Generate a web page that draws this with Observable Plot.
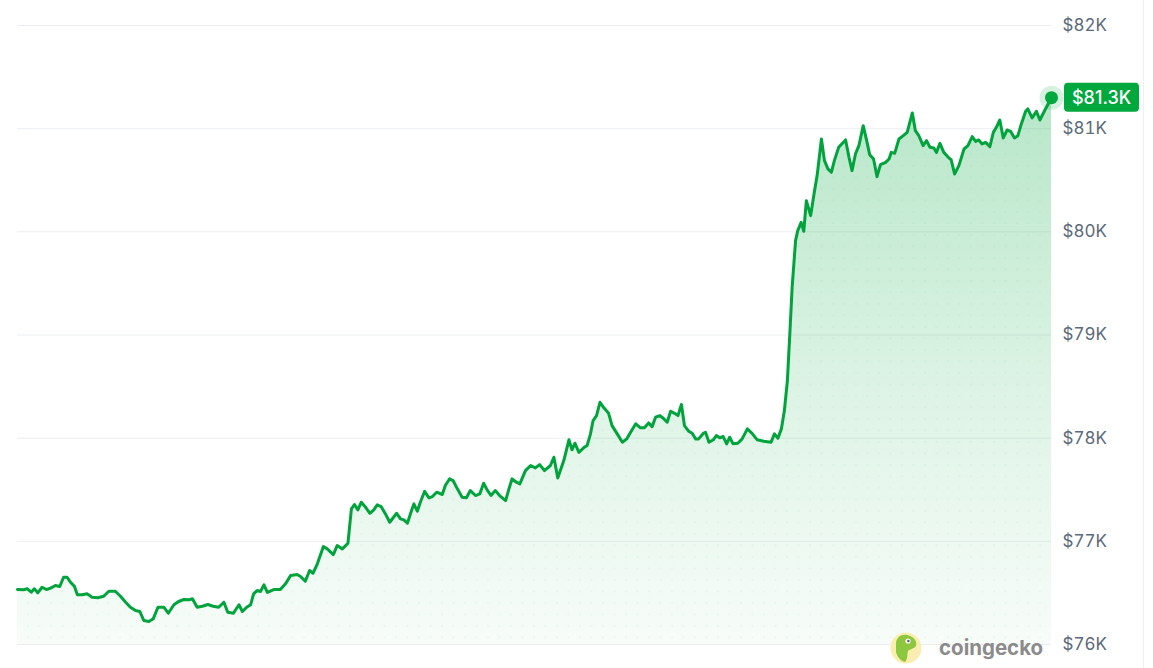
<!DOCTYPE html>
<html>
<head>
<meta charset="utf-8">
<script src="https://cdn.jsdelivr.net/npm/d3@7"></script>
<script src="https://cdn.jsdelivr.net/npm/@observablehq/plot@0.6"></script>
<style>
  html, body { margin: 0; padding: 0; background: #ffffff; }
  #chart { position: relative; width: 1153px; height: 668px; overflow: hidden; }
</style>
</head>
<body>
<div id="chart"></div>
<script>
// Hours since start of the 24h window
const hours = [0,0.14,0.23,0.32,0.39,0.47,0.57,0.67,0.77,0.88,0.98,1.07,1.15,1.23,1.32,1.39,1.50,1.62,1.73,1.86,2.00,2.12,2.27,2.39,2.51,2.62,2.74,2.84,2.93,3.05,3.15,3.26,3.40,3.50,3.63,3.74,3.86,3.98,4.06,4.17,4.29,4.42,4.54,4.67,4.79,4.88,5.01,5.14,5.22,5.32,5.41,5.48,5.56,5.64,5.72,5.80,
5.95,6.10,6.22,6.34,6.49,6.57,6.68,6.78,6.86,6.96,7.10,7.19,7.33,7.42,7.54,7.67,7.75,7.82,7.90,7.98,8.08,8.18,8.27,8.35,8.44,8.54,8.64,8.80,8.89,8.97,9.05,9.12,9.20,9.28,9.35,9.45,9.55,9.63,9.73,9.86,9.93,10.03,10.11,10.21,10.32,10.42,10.51,10.63,10.73,10.82,10.90,10.99,11.09,11.19,11.33,11.40,11.48,11.58,11.66,
11.79,11.91,12.02,12.12,12.23,12.37,12.45,12.54,12.68,12.80,12.87,12.94,13.03,13.14,13.22,13.30,13.36,13.44,13.52,13.61,13.72,13.80,13.92,14.04,14.14,14.23,14.35,14.46,14.55,14.65,14.73,14.81,14.91,14.99,15.08,15.16,15.25,15.33,15.41,15.48,15.58,15.66,15.74,15.81,15.92,15.97,16.05,16.15,16.22,16.30,16.38,16.46,16.53,16.61,16.72,16.82,16.94,17.05,17.17,17.32,17.49,17.57,17.65,17.73,
17.80,17.87,17.93,17.98,18.02,18.06,18.11,18.19,18.25,18.31,18.41,18.50,18.56,18.66,18.73,18.81,18.89,18.96,19.06,19.22,19.30,19.37,19.45,19.53,19.63,19.71,19.78,19.87,19.95,20.03,20.15,20.23,20.28,20.36,20.46,20.56,20.65,20.77,20.84,20.92,21.02,21.10,21.18,21.27,21.33,21.41,21.50,21.62,21.67,21.75,21.85,21.97,22.06,22.16,22.24,22.31,22.39,22.47,22.57,22.65,22.72,22.80,22.88,22.97,23.05,23.14,23.22,23.30,23.40,23.45,23.55,23.65,23.73,23.86,24.00];

// BTC price in USD
const prices = [76533,76530,76540,76507,76540,76501,76555,76533,76546,76572,76562,76652,76652,76604,76565,76482,76482,76491,76458,76453,76468,76516,76516,76468,76410,76361,76329,76320,76233,76223,76249,76361,76361,76303,76385,76417,76436,76433,76443,76361,76371,76388,76371,76361,76410,76313,76303,76385,76320,76361,76385,76491,76523,76514,76578,76505,
76533,76533,76588,76669,76678,76659,76613,76717,76691,76782,76950,76927,76872,76959,76927,76982,77315,77357,77305,77379,77330,77272,77305,77354,77337,77266,77185,77272,77218,77208,77175,77266,77363,77292,77379,77485,77422,77434,77476,77454,77541,77606,77589,77509,77427,77422,77492,77444,77460,77563,77499,77444,77492,77444,77395,77499,77606,77573,77557,
77686,77735,77712,77744,77686,77735,77815,77615,77783,77984,77887,77951,77863,77906,77928,78042,78171,78219,78348,78294,78241,78122,78042,77960,77993,78057,78139,78100,78100,78148,78112,78203,78219,78193,78154,78261,78241,78219,78326,78122,78067,78047,77993,77993,78047,78057,77960,77984,78025,78003,78016,77945,78009,77945,77951,77993,78090,78047,77984,77970,77960,78042,77999,78090,
78267,78558,79043,79462,79689,79915,80012,80092,80005,80302,80157,80399,80545,80900,80690,80610,80577,80690,80819,80891,80722,80593,80755,80835,81029,80884,80748,80706,80535,80651,80673,80706,80770,80761,80900,80932,80964,81152,80981,80932,80835,80884,80819,80813,80770,80858,80770,80716,80700,80561,80642,80803,80835,80923,80877,80891,80852,80867,80826,80964,81013,81084,80910,80987,80974,80910,80932,81046,81168,81191,81104,81168,81084,81191,81300];

const yTicks = [76000, 77000, 78000, 79000, 80000, 81000, 82000];
const tickLabels = ["$76K", "$77K", "$78K", "$79K", "$80K", "$81K", "$82K"];
const lastLabel = "$81.3K";
const brand = "coingecko";

const data = hours.map((h, i) => ({h, p: prices[i]}));
const last = [data[data.length - 1]];
const green = "#00a83e";

const chart = Plot.plot({
  width: 1153,
  height: 668,
  marginTop: 25,
  marginBottom: 24,
  marginLeft: 17,
  marginRight: 102,
  style: {fontFamily: "Inter, 'Noto Sans', sans-serif", color: "#5d6a7b", background: "#ffffff", overflow: "visible"},
  x: {domain: [0, 24], axis: null},
  y: {domain: [76000, 82000], axis: null},
  marks: [
    Plot.gridY(yTicks, {stroke: "#eceef1", strokeOpacity: 1, strokeWidth: 1}),
    Plot.areaY(data, {x: "h", y1: 76000, y2: "p", fill: "url(#areaGrad)", curve: "linear"}),
    Plot.areaY(data, {x: "h", y1: 76000, y2: "p", fill: "url(#dotPat)", curve: "linear"}),
    Plot.lineY(data, {x: "h", y: "p", stroke: "#00a33c", strokeWidth: 3, strokeLinejoin: "round", strokeLinecap: "round"}),
    Plot.axisY({
      anchor: "right", ticks: yTicks, tickSize: 0, tickPadding: 11, label: null,
      tickFormat: d => tickLabels[yTicks.indexOf(d)], fontSize: 17, textAnchor: "start"
    }),
    Plot.dot(last, {x: "h", y: "p", r: 12, fill: green, fillOpacity: 0.16}),
    Plot.dot(last, {x: "h", y: "p", r: 6.5, fill: green}),
  ]
});

document.getElementById("chart").appendChild(chart);

const svg = d3.select(chart);
const defs = svg.insert("defs", ":first-child");
const grad = defs.append("linearGradient")
  .attr("id", "areaGrad").attr("gradientUnits", "userSpaceOnUse")
  .attr("x1", 0).attr("x2", 0).attr("y1", chart.scale("y").apply(81300)).attr("y2", chart.scale("y").apply(76000));
grad.append("stop").attr("offset", "0%").attr("stop-color", green).attr("stop-opacity", 0.28);
grad.append("stop").attr("offset", "55%").attr("stop-color", green).attr("stop-opacity", 0.13);
grad.append("stop").attr("offset", "100%").attr("stop-color", green).attr("stop-opacity", 0.03);
const pat = defs.append("pattern").attr("id", "dotPat").attr("patternUnits", "userSpaceOnUse")
  .attr("width", 11.5).attr("height", 11.5);
pat.append("circle").attr("cx", 5).attr("cy", 5).attr("r", 1.1).attr("fill", green).attr("fill-opacity", 0.06);

// Price badge next to the last point
const px = chart.scale("x").apply(last[0].h);
const py = chart.scale("y").apply(last[0].p);
const badge = svg.append("g").attr("transform", `translate(${px + 13},${py})`);
badge.append("rect").attr("x", 0).attr("y", -14.5).attr("width", 75).attr("height", 29).attr("rx", 4).attr("fill", green);
badge.append("text").attr("x", 37.5).attr("y", 0).attr("dy", "0.36em").attr("text-anchor", "middle")
  .attr("fill", "#ffffff").attr("font-size", 18).attr("font-weight", 500).attr("font-family", "Inter, sans-serif").text(lastLabel);

// Right frame border
svg.append("line").attr("x1", 1143.5).attr("x2", 1143.5).attr("y1", 0).attr("y2", 668).attr("stroke", "#eef0f2");

// coingecko watermark
const bx = chart.scale("x").apply(24) - 145;
const by = chart.scale("y").apply(76000) + 4;
const wm = svg.append("g").attr("transform", `translate(${bx},${by})`);
wm.append("circle").attr("cx", 0).attr("cy", 0).attr("r", 15.5).attr("fill", "#f9eeb0");
wm.append("path").attr("d", "M-10,-4 C-10,-12 -2,-15 4,-12 C9,-10 11,-6 10,-2 C8,1 4,1 2,3 C1,7 2,11 -1,14 C-5,13 -9,9 -10,4 Z").attr("fill", "#8dc63f");
wm.append("circle").attr("cx", 2).attr("cy", -7).attr("r", 2.6).attr("fill", "#ffffff");
wm.append("circle").attr("cx", 2.4).attr("cy", -7).attr("r", 1.2).attr("fill", "#58595b");
wm.append("text").attr("x", 33).attr("y", 0).attr("dy", "0.32em").attr("text-anchor", "start").attr("fill", "#8b8b8b")
  .attr("font-size", 20.5).attr("font-weight", 700).attr("font-family", "Inter, 'Open Sans', sans-serif").text(brand);
</script>
</body>
</html>
